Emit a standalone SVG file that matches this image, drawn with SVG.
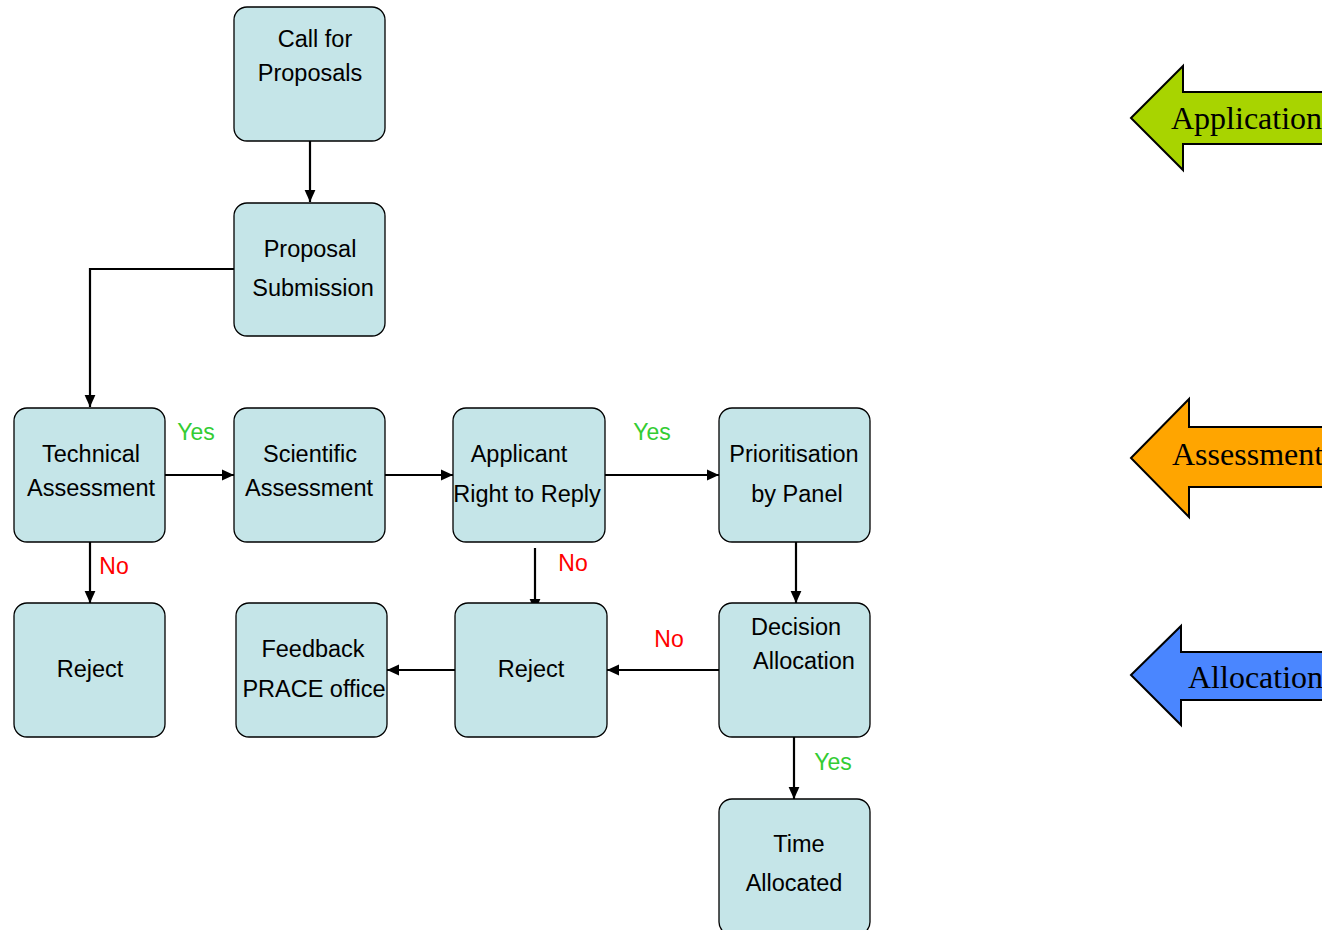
<svg xmlns="http://www.w3.org/2000/svg" width="1322" height="930" viewBox="0 0 1322 930">
<style>
.box{fill:#c5e5e8;stroke:#000;stroke-width:1.3}
.t{font-family:"Liberation Sans",Arial,sans-serif;font-size:23.5px;fill:#000;text-anchor:middle}
.yes{font-family:"Liberation Sans",Arial,sans-serif;font-size:23px;fill:#33cc33;text-anchor:middle}
.no{font-family:"Liberation Sans",Arial,sans-serif;font-size:23px;fill:#ff0000;text-anchor:middle}
.c{fill:none;stroke:#000;stroke-width:2.2;marker-end:url(#ah)}
.big{stroke:#000;stroke-width:2}
.bt{font-family:"Liberation Serif","Times New Roman",serif;font-size:32px;fill:#000}
</style>
<defs>
<marker id="ah" markerUnits="userSpaceOnUse" markerWidth="12" markerHeight="12" viewBox="0 0 10 10" refX="10" refY="5" orient="auto">
<path d="M0,0.5 L10,5 L0,9.5 Z" fill="#000"/>
</marker>
</defs>
<rect width="1322" height="930" fill="#fff"/>
<g id="connectors">
<path class="c" d="M310,141 V202"/>
<path class="c" d="M234,269 H90 V407"/>
<path class="c" d="M165,475 H234"/>
<path class="c" d="M385,475 H453"/>
<path class="c" d="M605,475 H719"/>
<path class="c" d="M90,542 V603"/>
<path class="c" d="M535,548 V611"/>
<path class="c" d="M796,542 V603"/>
<path class="c" d="M719,670 H607"/>
<path class="c" d="M455,670 H387"/>
<path class="c" d="M794,737 V799"/>
</g>
<g id="labels">
<text class="yes" x="196" y="440">Yes</text>
<text class="yes" x="652" y="440">Yes</text>
<text class="yes" x="833" y="770">Yes</text>
<text class="no" x="114" y="574">No</text>
<text class="no" x="573" y="571">No</text>
<text class="no" x="669" y="647">No</text>
</g>
<g id="call"><rect class="box" x="234" y="7" width="151" height="134" rx="13"/><text class="t" x="315" y="47">Call for</text><text class="t" x="310" y="81">Proposals</text></g>
<g id="submission"><rect class="box" x="234" y="203" width="151" height="133" rx="13"/><text class="t" x="310" y="257">Proposal</text><text class="t" x="313" y="296">Submission</text></g>
<g id="technical"><rect class="box" x="14" y="408" width="151" height="134" rx="13"/><text class="t" x="91" y="462">Technical</text><text class="t" x="91" y="496">Assessment</text></g>
<g id="scientific"><rect class="box" x="234" y="408" width="151" height="134" rx="13"/><text class="t" x="310" y="462">Scientific</text><text class="t" x="309" y="496">Assessment</text></g>
<g id="applicant"><rect class="box" x="453" y="408" width="152" height="134" rx="13"/><text class="t" x="519" y="462">Applicant</text><text class="t" x="527" y="502">Right to Reply</text></g>
<g id="prioritisation"><rect class="box" x="719" y="408" width="151" height="134" rx="13"/><text class="t" x="794" y="462">Prioritisation</text><text class="t" x="797" y="502">by Panel</text></g>
<g id="reject1"><rect class="box" x="14" y="603" width="151" height="134" rx="13"/><text class="t" x="90" y="677">Reject</text></g>
<g id="feedback"><rect class="box" x="236" y="603" width="151" height="134" rx="13"/><text class="t" x="313" y="657">Feedback</text><text class="t" x="314" y="697">PRACE office</text></g>
<g id="reject2"><rect class="box" x="455" y="603" width="152" height="134" rx="13"/><text class="t" x="531" y="677">Reject</text></g>
<g id="decision"><rect class="box" x="719" y="603" width="151" height="134" rx="13"/><text class="t" x="796" y="635">Decision</text><text class="t" x="804" y="669">Allocation</text></g>
<g id="time"><rect class="box" x="719" y="799" width="151" height="136" rx="13"/><text class="t" x="799" y="852">Time</text><text class="t" x="794" y="891">Allocated</text></g>
<g id="phase-application"><path class="big" fill="#a8d400" d="M1131,118 L1183,66 V92 H1330 V144 H1183 V170 Z"/><text class="bt" x="1171" y="129">Application</text></g>
<g id="phase-assessment"><path class="big" fill="#ffa500" d="M1131,458 L1189,399 V427 H1330 V487 H1189 V517 Z"/><text class="bt" x="1172" y="465">Assessment</text></g>
<g id="phase-allocation"><path class="big" fill="#4a86ff" d="M1131,675 L1181,626 V652 H1330 V700 H1181 V725 Z"/><text class="bt" x="1188" y="688">Allocation</text></g>
</svg>
